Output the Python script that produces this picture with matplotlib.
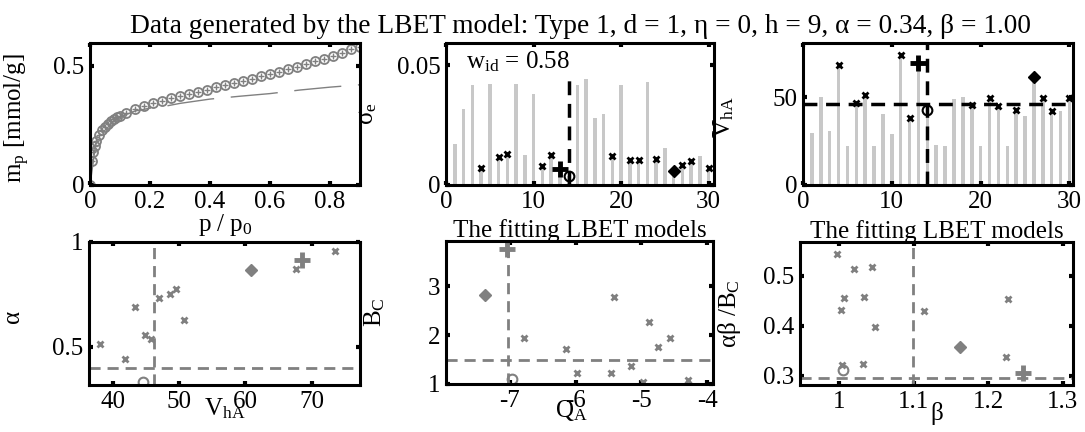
import matplotlib
matplotlib.use("Agg")
import matplotlib.pyplot as plt
from matplotlib.ticker import FormatStrFormatter

plt.rcParams["font.family"] = ["Liberation Serif", "DejaVu Serif"]
plt.rcParams["mathtext.fontset"] = "custom"
plt.rcParams["mathtext.rm"] = "Liberation Serif"
plt.rcParams["mathtext.it"] = "Liberation Serif"
plt.rcParams["mathtext.bf"] = "Liberation Serif:bold"
plt.rcParams["font.size"] = 18

# ===== DATA =====
# isotherm: measured points and the ideal-model curve
p_rel = [0, 0.005, 0.01, 0.015, 0.02, 0.03, 0.04, 0.05, 0.06, 0.07, 0.08, 0.09,
         0.10, 0.12, 0.15, 0.18, 0.21, 0.24, 0.27, 0.30, 0.33, 0.36, 0.39, 0.42,
         0.45, 0.48, 0.51, 0.54, 0.57, 0.60, 0.63, 0.66, 0.69, 0.72, 0.75, 0.78,
         0.81, 0.84, 0.87, 0.90]
m_p = [0, 0.10, 0.14, 0.165, 0.185, 0.21, 0.23, 0.245, 0.257, 0.267, 0.276, 0.284,
       0.29, 0.302, 0.318, 0.331, 0.342, 0.353, 0.363, 0.373, 0.382, 0.391, 0.400,
       0.409, 0.418, 0.427, 0.436, 0.445, 0.455, 0.465, 0.475, 0.485, 0.496, 0.507,
       0.518, 0.530, 0.542, 0.555, 0.568, 0.580]
p_model = [0, 0.02, 0.05, 0.10, 0.15, 0.20, 0.25, 0.30, 0.40, 0.50, 0.60, 0.70, 0.80, 0.90]
m_model = [0, 0.18, 0.24, 0.285, 0.31, 0.322, 0.33, 0.342, 0.36, 0.372, 0.383, 0.398, 0.41, 0.42]

# the 30 candidate models
model_id = list(range(1, 31))
sigma_e = [0.0171, 0.0317, 0.0416, 0.0072, 0.0423, 0.0116, 0.0131, 0.0423, 0.0127, 0.0380,
           0.0081, 0.0127, 0.0065, 0.0037, 0.0416, 0.0444, 0.0281, 0.0295, 0.0120, 0.0416,
           0.0103, 0.0106, 0.0430, 0.0110, 0.0155, 0.0058, 0.0083, 0.0102, 0.0120, 0.0069]
v_ha = [29.7, 50.1, 30.6, 68.4, 22.1, 46.7, 51.4, 22.1, 40.5, 29.1,
        74.1, 38.2, 69.4, 42.9, 23.1, 22.1, 49.2, 50.1, 45.8, 22.1,
        49.9, 44.8, 22.1, 42.9, 39.5, 61.8, 49.9, 42.4, 42.0, 49.6]
fit_x = [4, 6, 7, 11, 12, 19, 21, 22, 24, 27, 28, 30]   # fitting models (x)
fit_plus = 13
fit_circ = 14
fit_diam = 26
w_id = 0.58
id_model = 14
v_ha_true = 46.2

# bottom row: fitting-model parameters
va_x = [38.0, 41.9, 43.4, 44.8, 45.8, 46.9, 48.6, 49.5, 50.8, 67.7, 73.5]
al_x = [0.516, 0.445, 0.69, 0.556, 0.54, 0.735, 0.754, 0.778, 0.627, 0.873, 0.957]
va_plus, al_plus = 68.5, 0.913
va_diam, al_diam = 60.8, 0.865
va_circ, al_circ = 44.5, 0.334
va_ref, al_ref = 46.2, 0.40

qa_x = [-6.78, -6.15, -5.98, -5.46, -5.41, -5.16, -4.98, -4.89, -4.74, -4.57, -4.29]
bc_x = [1.94, 1.71, 1.23, 1.22, 2.78, 1.37, 1.05, 2.27, 1.75, 1.93, 1.08]
qa_plus, bc_plus = -7.05, 3.75
qa_diam, bc_diam = -7.37, 2.82
qa_circ, bc_circ = -6.97, 1.10
qa_ref, bc_ref = -7.02, 1.50

be_x = [0.997, 1.019, 1.043, 1.006, 1.033, 1.002, 1.048, 1.032, 1.003, 1.113, 1.226, 1.223]
ab_x = [0.545, 0.515, 0.518, 0.457, 0.459, 0.433, 0.399, 0.325, 0.323, 0.431, 0.455, 0.338]
be_plus, ab_plus = 1.246, 0.306
be_diam, ab_diam = 1.162, 0.358
be_circ, ab_circ = 1.005, 0.313
be_ref, ab_ref = 1.099, 0.296

TITLE = "Data generated by the LBET model: Type 1, d = 1, \u03b7 = 0, h = 9, \u03b1 = 0.34, \u03b2 = 1.00"

BAR = "#c8c8c8"
GREY = "#808080"
W, H = 1085, 432


def style(ax, xt, yt):
    ax.set_xticks(xt)
    ax.set_yticks(yt)
    ax.xaxis.set_major_formatter(FormatStrFormatter("%g"))
    ax.yaxis.set_major_formatter(FormatStrFormatter("%g"))
    ax.tick_params(direction="in", length=3, width=3, top=True, right=True,
                   labelsize=18, pad=4)
    for s in ax.spines.values():
        s.set_linewidth(2.2)


def marks(ax, xs, ys, xp, yp, xd, yd, xc, yc, col):
    ax.plot(xs, ys, "x", color=col, ms=5, mew=2, ls="none")
    ax.plot(xp, yp, "+", color=col, ms=11, mew=3.5, ls="none")
    ax.plot(xd, yd, "D", color=col, ms=6, ls="none")
    ax.plot(xc, yc, "o", color=col, mfc="none", ms=7, mew=1.5, ls="none")


fig = plt.figure(figsize=(W / 100, H / 100), dpi=100)

# ---- top-left: isotherm
ax1 = fig.add_axes([90 / W, 247 / H, 270 / W, 142 / H])
ax1.plot(p_model, m_model, color=GREY, lw=1, dashes=(34, 12))
ax1.plot(p_rel, m_p, "o", color=GREY, mfc="none", ms=6.5, mew=1.3)
ax1.plot(p_rel, m_p, "+", color=GREY, ms=5, mew=1)
ax1.set_xlim(0, 0.9)
ax1.set_ylim(0, 0.595)
style(ax1, [0, 0.2, 0.4, 0.6, 0.8], [0, 0.5])
ax1.set_xlabel("p / p$_0$")
ax1.xaxis.set_label_coords(0.5, -0.19)
ax1.set_ylabel("m$_\\mathrm{p}$ [mmol/g]")
ax1.yaxis.set_label_coords(-0.215, 0.47)

# ---- top-middle: sigma_e per model
ax2 = fig.add_axes([446 / W, 247 / H, 268 / W, 142 / H])
ax2.bar(model_id, sigma_e, width=0.4, color=BAR)
ax2.plot(fit_x, [sigma_e[m - 1] for m in fit_x], "x", color="k", ms=5, mew=2)
ax2.plot(fit_plus, sigma_e[fit_plus - 1], "+", color="k", ms=11, mew=3.5)
ax2.plot(fit_diam, sigma_e[fit_diam - 1], "D", color="k", ms=6)
ax2.plot(fit_circ, sigma_e[fit_circ - 1], "o", color="k", mfc="none", ms=7, mew=1.5)
ax2.plot([id_model, id_model], [0, 0.0466], color="k", lw=2.5, dashes=(4, 2.5))
ax2.text(2.3, 0.0486, "w$_{\\mathrm{id}}$ = %.2f" % w_id, fontsize=18)
ax2.set_xlim(0, 30.6)
ax2.set_ylim(0, 0.0592)
style(ax2, [0, 10, 20, 30], [0, 0.05])
ax2.set_ylabel("\u03c3$_\\mathrm{e}$")
ax2.yaxis.set_label_coords(-0.25, 0.5)
ax2.set_title(TITLE, fontsize=19.7, pad=7)

# ---- top-right: V_hA per model
ax3 = fig.add_axes([803 / W, 247 / H, 270 / W, 142 / H])
ax3.bar(model_id, v_ha, width=0.4, color=BAR)
ax3.plot(fit_x, [v_ha[m - 1] for m in fit_x], "x", color="k", ms=5, mew=2)
ax3.plot(fit_plus, v_ha[fit_plus - 1], "+", color="k", ms=11, mew=3.5)
ax3.plot(fit_diam, v_ha[fit_diam - 1], "D", color="k", ms=6)
ax3.plot(fit_circ, v_ha[fit_circ - 1], "o", color="k", mfc="none", ms=7, mew=1.5)
ax3.axvline(id_model, color="k", lw=2.5, dashes=(4, 2.5))
ax3.axhline(v_ha_true, color="k", lw=2.5, dashes=(4, 2.5))
ax3.set_xlim(0, 30.4)
ax3.set_ylim(0, 81)
style(ax3, [0, 10, 20, 30], [0, 50])
ax3.set_ylabel("V$_\\mathrm{hA}$")
ax3.yaxis.set_label_coords(-0.25, 0.48)

# ---- bottom-left: alpha vs V_hA
ax4 = fig.add_axes([89 / W, 47 / H, 271 / W, 143 / H])
marks(ax4, va_x, al_x, va_plus, al_plus, va_diam, al_diam, va_circ, al_circ, GREY)
ax4.axvline(va_ref, color=GREY, lw=2, dashes=(4, 2.5))
ax4.axhline(al_ref, color=GREY, lw=2, dashes=(4, 2.5))
ax4.set_xlim(36.4, 77.3)
ax4.set_ylim(0.319, 1.0)
style(ax4, [40, 50, 60, 70], [0.5, 1])
ax4.set_xlabel("V$_\\mathrm{hA}$")
ax4.xaxis.set_label_coords(0.5, -0.08)
ax4.set_ylabel("\u03b1")
ax4.yaxis.set_label_coords(-0.24, 0.48)

# ---- bottom-middle: B_C vs Q_A
ax5 = fig.add_axes([446 / W, 48 / H, 267 / W, 143 / H])
marks(ax5, qa_x, bc_x, qa_plus, bc_plus, qa_diam, bc_diam, qa_circ, bc_circ, GREY)
ax5.axvline(qa_ref, color=GREY, lw=2, dashes=(4, 2.5))
ax5.axhline(bc_ref, color=GREY, lw=2, dashes=(4, 2.5))
ax5.set_xlim(-7.97, -3.91)
ax5.set_ylim(1.0, 3.92)
style(ax5, [-7, -6, -5, -4], [1, 2, 3])
ax5.set_xlabel("Q$_\\mathrm{A}$")
ax5.xaxis.set_label_coords(0.47, -0.1)
ax5.set_ylabel("B$_\\mathrm{C}$")
ax5.yaxis.set_label_coords(-0.22, 0.5)
ax5.set_title("The fitting LBET models", fontsize=18, pad=3)

# ---- bottom-right: alpha*beta/B_C vs beta
ax6 = fig.add_axes([800 / W, 47 / H, 273 / W, 143 / H])
marks(ax6, be_x, ab_x, be_plus, ab_plus, be_diam, ab_diam, be_circ, ab_circ, GREY)
ax6.axvline(be_ref, color=GREY, lw=2, dashes=(4, 2.5))
ax6.axhline(ab_ref, color=GREY, lw=2, dashes=(4, 2.5))
ax6.set_xlim(0.947, 1.3135)
ax6.set_ylim(0.282, 0.568)
style(ax6, [1, 1.1, 1.2, 1.3], [0.3, 0.4, 0.5])
ax6.set_xlabel("\u03b2")
ax6.xaxis.set_label_coords(0.5, -0.12)
ax6.set_ylabel("\u03b1\u03b2 /B$_\\mathrm{C}$")
ax6.yaxis.set_label_coords(-0.21, 0.5)
ax6.set_title("The fitting LBET models", fontsize=18, pad=3)

fig.savefig("out.png", dpi=100)
